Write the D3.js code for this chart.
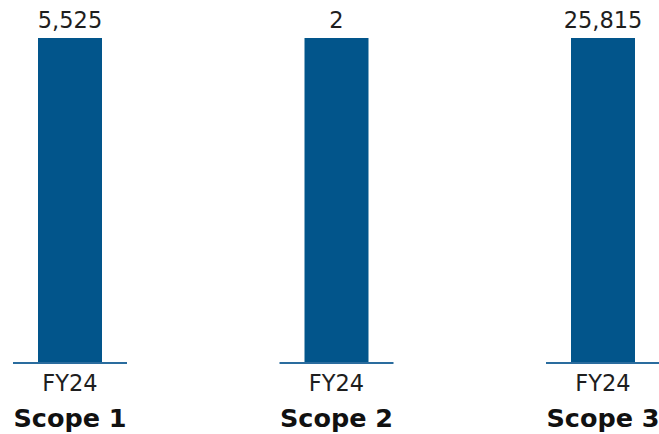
<!DOCTYPE html>
<html><head><meta charset="utf-8">
<script src="https://cdn.jsdelivr.net/npm/d3@7"></script>
<style>html,body{margin:0;padding:0;background:#fff;}svg{display:block;}</style>
</head><body>
<script>
const scopes = ["Scope 1", "Scope 2", "Scope 3"];
const years = ["FY24"];
const values = [5525, 2, 25815];

const W = 659, H = 434;
const svg = d3.select("body").append("svg").attr("width", W).attr("height", H);

const panelX = d3.scalePoint().domain(scopes).range([70, 603]);
const halfW = 57;
const baseY = 362, topY = 38;
const fmt = d3.format(",");

scopes.forEach((s, i) => {
  const cx = panelX(s);
  const x = d3.scaleBand().domain(years).range([cx - halfW, cx + halfW]).paddingInner(0.281).paddingOuter(0.281);
  const y = d3.scaleLinear().domain([0, values[i]]).range([baseY, topY]);
  const g = svg.append("g");
  years.forEach(yr => {
    g.append("rect")
      .attr("x", x(yr)).attr("width", x.bandwidth())
      .attr("y", y(values[i])).attr("height", y(0) - y(values[i]))
      .attr("fill", "#02558b");
    g.append("text")
      .attr("x", x(yr) + x.bandwidth() / 2).attr("y", y(values[i]) - 10)
      .attr("text-anchor", "middle")
      .attr("font-family", "DejaVu Sans").attr("font-size", 22.5).attr("fill", "#1e1e1e")
      .text(fmt(values[i]));
    g.append("text")
      .attr("x", x(yr) + x.bandwidth() / 2).attr("y", 391)
      .attr("text-anchor", "middle")
      .attr("font-family", "DejaVu Sans").attr("font-size", 22.5).attr("fill", "#1e1e1e")
      .text(yr);
  });
  g.append("line")
    .attr("x1", cx - halfW).attr("x2", cx + halfW)
    .attr("y1", baseY + 1).attr("y2", baseY + 1)
    .attr("stroke", "#2a6c9e").attr("stroke-width", 2);
  g.append("text")
    .attr("x", cx).attr("y", 427)
    .attr("text-anchor", "middle")
    .attr("font-family", "DejaVu Sans").attr("font-weight", "bold").attr("font-size", 25.5).attr("fill", "#111")
    .text(s);
});
</script>
</body></html>
